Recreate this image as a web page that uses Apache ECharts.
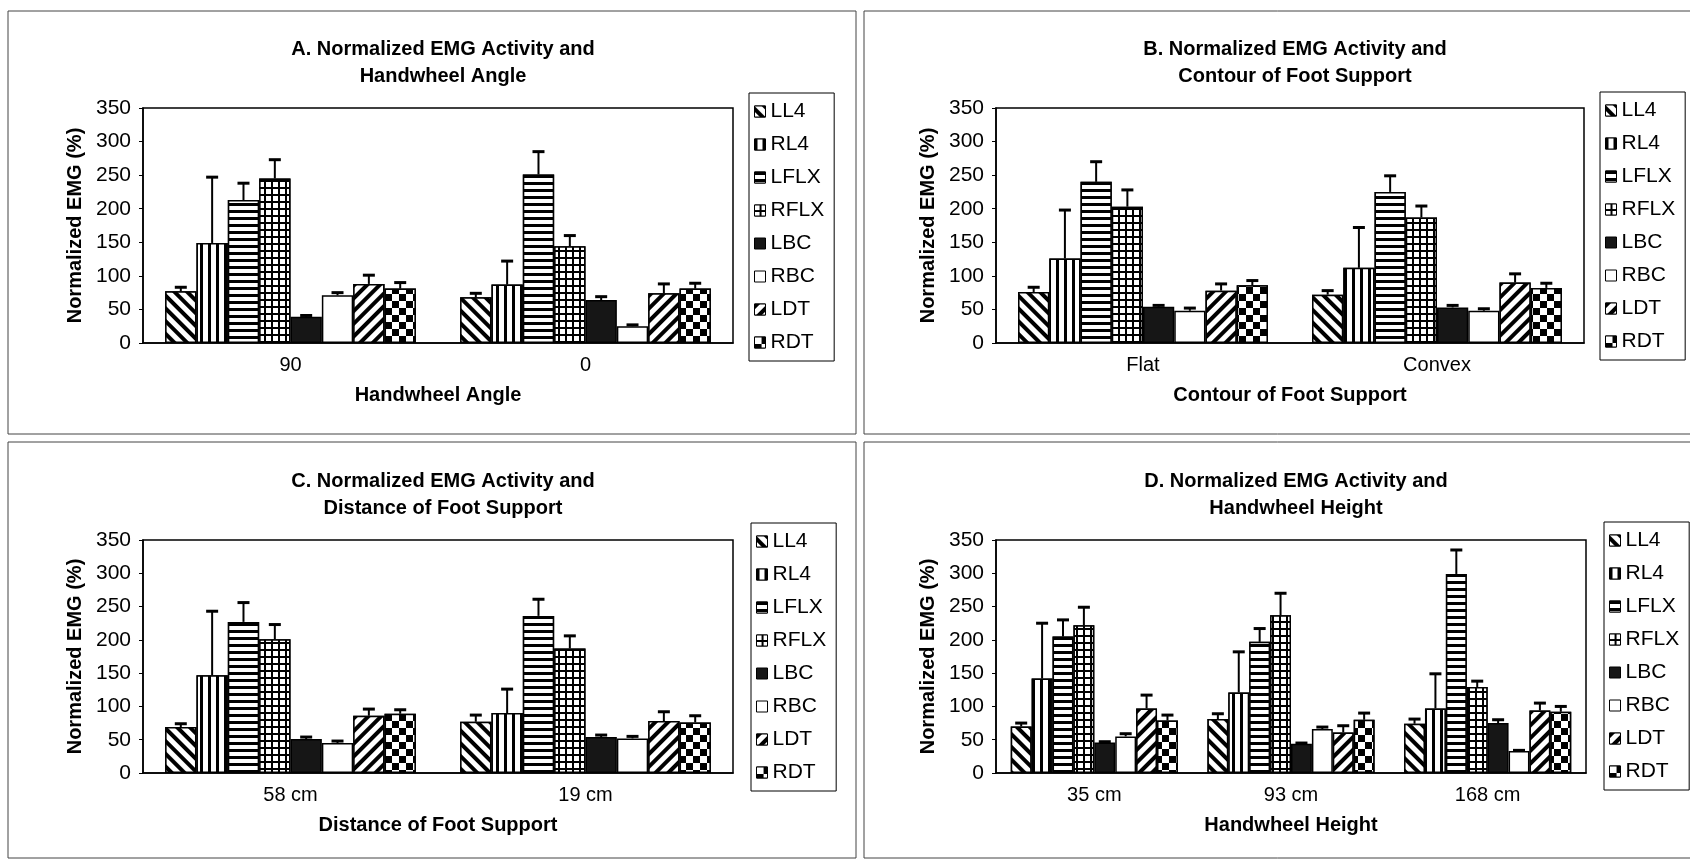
<!DOCTYPE html>
<html>
<head>
<meta charset="utf-8">
<script src="https://cdn.jsdelivr.net/npm/echarts@6/dist/echarts.min.js"></script>
<style>
html,body{margin:0;padding:0;background:#fff;}
#main{width:1690px;height:860px;}
</style>
</head>
<body>
<div id="main"></div>
<script>
var muscles = ['LL4', 'RL4', 'LFLX', 'RFLX', 'LBC', 'RBC', 'LDT', 'RDT'];

// A. handwheel angle
var catsA = ['90', '0'];
var meanA = [[77, 68], [149, 87], [213, 251], [245, 144], [39, 64], [71, 25], [88, 74], [81, 81]];
var sdA = [[6, 6], [98, 35], [25, 34], [28, 16], [2, 5], [4, 2], [13, 14], [9, 8]];

// B. contour of foot support
var catsB = ['Flat', 'Convex'];
var meanB = [[76, 72], [126, 112], [240, 225], [203, 187], [54, 53], [48, 48], [78, 90], [86, 82]];
var sdB = [[7, 6], [72, 60], [30, 24], [25, 17], [2, 3], [4, 3], [10, 13], [7, 7]];

// C. distance of foot support
var catsC = ['58 cm', '19 cm'];
var meanC = [[69, 77], [147, 90], [227, 236], [201, 187], [51, 54], [45, 52], [86, 78], [89, 76]];
var sdC = [[5, 10], [96, 36], [29, 25], [22, 19], [3, 3], [3, 3], [10, 14], [6, 10]];

// D. handwheel height
var catsD = ['35 cm', '93 cm', '168 cm'];
var meanD = [[70, 81, 74], [142, 121, 97], [205, 197, 299], [222, 237, 129], [46, 44, 75], [55, 66, 33], [97, 61, 94], [79, 80, 92]];
var sdD = [[5, 8, 7], [83, 61, 52], [25, 20, 36], [27, 33, 9], [1, 1, 5], [4, 3, 1], [20, 10, 11], [8, 10, 8]];

var yTicks = [0, 50, 100, 150, 200, 250, 300, 350];

var FONT = "'Liberation Sans', Arial, sans-serif";

var panels = [
    {title: 'A. Normalized EMG Activity and\nHandwheel Angle', xName: 'Handwheel Angle', cats: catsA, mean: meanA, sd: sdA,
     grid: {left: 143, top: 108, width: 590, height: 235}, legend: {left: 749, top: 93}},
    {title: 'B. Normalized EMG Activity and\nContour of Foot Support', xName: 'Contour of Foot Support', cats: catsB, mean: meanB, sd: sdB,
     grid: {left: 996, top: 108, width: 588, height: 235}, legend: {left: 1600, top: 92}},
    {title: 'C. Normalized EMG Activity and\nDistance of Foot Support', xName: 'Distance of Foot Support', cats: catsC, mean: meanC, sd: sdC,
     grid: {left: 143, top: 540, width: 590, height: 233}, legend: {left: 751, top: 523}},
    {title: 'D. Normalized EMG Activity and\nHandwheel Height', xName: 'Handwheel Height', cats: catsD, mean: meanD, sd: sdD,
     grid: {left: 996, top: 540, width: 590, height: 233}, legend: {left: 1604, top: 522}}
];

// fill patterns, one per muscle
var decals = [
    {symbol: 'rect', symbolSize: 1, symbolKeepAspect: false, dashArrayX: [1, 0], dashArrayY: [4, 5], rotation: Math.PI / 4, color: '#000', backgroundColor: '#fff'},
    {symbol: 'rect', symbolSize: 1, symbolKeepAspect: false, dashArrayX: [3, 5], dashArrayY: [1, 0], color: '#000', backgroundColor: '#fff'},
    {symbol: 'rect', symbolSize: 1, symbolKeepAspect: false, dashArrayX: [1, 0], dashArrayY: [3, 4], color: '#000', backgroundColor: '#fff'},
    {symbol: 'rect', symbolSize: 1, symbolKeepAspect: false, dashArrayX: [5, 2], dashArrayY: [5, 2], color: '#fff', backgroundColor: '#000'},
    null,
    null,
    {symbol: 'rect', symbolSize: 1, symbolKeepAspect: false, dashArrayX: [1, 0], dashArrayY: [4, 5], rotation: -Math.PI / 4, color: '#000', backgroundColor: '#fff'},
    {symbol: 'rect', symbolSize: 1, symbolKeepAspect: false, dashArrayX: [[7, 7], [0, 7, 7, 0]], dashArrayY: [7, 0], color: '#000', backgroundColor: '#fff'}
];

var myChart = echarts.init(document.getElementById('main'));

var option = {
    backgroundColor: '#fff',
    animation: false,
    title: [], grid: [], xAxis: [], yAxis: [], legend: [], series: [],
    graphic: [
        {type: 'rect', shape: {x: 8, y: 11, width: 848, height: 423}, style: {fill: 'none', stroke: '#444', lineWidth: 1}},
        {type: 'rect', shape: {x: 864, y: 11, width: 840, height: 423}, style: {fill: 'none', stroke: '#444', lineWidth: 1}},
        {type: 'rect', shape: {x: 8, y: 442, width: 848, height: 416}, style: {fill: 'none', stroke: '#444', lineWidth: 1}},
        {type: 'rect', shape: {x: 864, y: 442, width: 840, height: 416}, style: {fill: 'none', stroke: '#444', lineWidth: 1}}
    ]
};

panels.forEach(function (p, i) {
    var g = p.grid;
    option.title.push({
        text: p.title,
        left: g.left + g.width / 2,
        top: g.top - 77,
        textAlign: 'center',
        textStyle: {fontSize: 20, fontWeight: 'bold', lineHeight: 27, color: '#000', fontFamily: FONT}
    });
    option.grid.push({
        left: g.left, top: g.top, width: g.width, height: g.height,
        show: true, borderColor: '#000', borderWidth: 1.5, backgroundColor: '#fff'
    });
    option.xAxis.push({
        type: 'category', gridIndex: i, data: p.cats,
        name: p.xName, nameLocation: 'middle', nameGap: 42,
        nameTextStyle: {fontSize: 20, fontWeight: 'bold', color: '#000', fontFamily: FONT},
        axisLine: {lineStyle: {color: '#000', width: 1.5}},
        axisTick: {show: false},
        axisLabel: {fontSize: 20, color: '#000', margin: 12, fontFamily: FONT}
    });
    option.yAxis.push({
        type: 'value', gridIndex: i, min: yTicks[0], max: yTicks[yTicks.length - 1], interval: 50,
        name: 'Normalized EMG (%)', nameLocation: 'middle', nameGap: 58,
        nameTextStyle: {fontSize: 20, fontWeight: 'bold', color: '#000', fontFamily: FONT},
        axisLine: {show: true, lineStyle: {color: '#000', width: 1.5}},
        axisTick: {show: true, length: 4, lineStyle: {color: '#000'}},
        splitLine: {show: false},
        axisLabel: {fontSize: 21, color: '#000', margin: 12, fontFamily: FONT}
    });
    option.legend.push({
        orient: 'vertical', left: p.legend.left, top: p.legend.top,
        data: muscles, icon: 'rect', itemWidth: 11, itemHeight: 11, itemGap: 12,
        padding: [8, 10, 8, 5], borderColor: '#000', borderWidth: 1, backgroundColor: '#fff',
        selectedMode: false,
        itemStyle: {borderColor: '#000', borderWidth: 1},
        textStyle: {fontSize: 21, lineHeight: 20, color: '#000', fontFamily: FONT}
    });
    muscles.forEach(function (m, k) {
        var style = {color: k === 4 ? '#161616' : '#fff', borderColor: '#000', borderWidth: 1.5};
        if (decals[k]) style.decal = decals[k];
        option.series.push({
            type: 'bar', name: m, xAxisIndex: i, yAxisIndex: i,
            data: p.mean[k], barGap: '0%', barCategoryGap: '15%',
            itemStyle: style, silent: true
        });
    });
    var errData = [];
    p.mean.forEach(function (row, k) {
        row.forEach(function (v, c) {
            errData.push([c, k, v, v + p.sd[k][c]]);
        });
    });
    option.series.push({
        type: 'custom', name: 'err' + i, xAxisIndex: i, yAxisIndex: i, z: 5, silent: true,
        data: errData,
        encode: {x: 0, y: 3},
        renderItem: function (params, api) {
            var c = api.value(0), k = api.value(1);
            var band = api.size([1, 0])[0];
            var bw = band * 0.85 / 8;
            var base = api.coord([c, api.value(2)]);
            var top = api.coord([c, api.value(3)]);
            var x = base[0] + (k - 3.5) * bw;
            return {
                type: 'group',
                children: [
                    {type: 'line', shape: {x1: x, y1: base[1], x2: x, y2: top[1]}, style: {stroke: '#000', lineWidth: 2}},
                    {type: 'line', shape: {x1: x - 6, y1: top[1], x2: x + 6, y2: top[1]}, style: {stroke: '#000', lineWidth: 3}}
                ]
            };
        }
    });
});

myChart.setOption(option);
</script>
</body>
</html>
